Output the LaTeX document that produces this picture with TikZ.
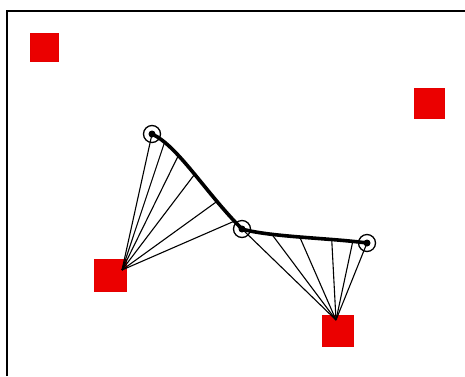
\documentclass[tikz,border=0pt]{standalone}
\begin{document}
\begin{tikzpicture}[x=1pt,y=-1pt,
  sq/.style={draw=red!90!black,fill=red!92!black,line width=0.8pt,minimum width=#1,minimum height=#1,inner sep=0pt},
  ring/.style={circle,draw=black,line width=1.3pt,minimum size=17pt,inner sep=0pt},
  dot/.style={circle,fill=black,minimum size=7pt,inner sep=0pt},
  fan/.style={draw=black,line width=1.1pt},
  thick curve/.style={draw=black,line width=3.6pt,line cap=round}]
\useasboundingbox (0,0) rectangle (465,376);
\fill[white] (0,0) rectangle (465,376);
% frame
\draw[line width=2pt] (7,376) -- (7,11) -- (465,11);
% red squares
\node[sq=28pt] (s1) at (44,47) {};
\node[sq=30pt] (s2) at (429,103) {};
\node[sq=32pt] (s3) at (110,275) {};
\node[sq=31pt] (s4) at (338,331) {};
% control points
\node[ring] (p1) at (152,134) {};
\node[ring] (p2) at (242,229) {};
\node[ring] (p3) at (367,243) {};
\node[dot] at (p1) {};
\node[dot] at (p2) {};
\node[dot] at (p3) {};
% fan origins
\coordinate (fl) at (122,270);
\coordinate (fr) at (336,320);
% thick curve with sample points
\path[thick curve] (p1.center) .. controls (178,146) and (205,192) .. (p2.center)
  coordinate[pos=0.16] (a2) coordinate[pos=0.33] (a3) coordinate[pos=0.52] (a4)
  coordinate[pos=0.76] (a5) coordinate[pos=0.93] (a6);
\path[thick curve] (p2.center) .. controls (270,237) and (330,238) .. (p3.center)
  coordinate[pos=0.28] (b2) coordinate[pos=0.49] (b3) coordinate[pos=0.72] (b4)
  coordinate[pos=0.88] (b5);
% left fan
\foreach \t in {p1.center,a2,a3,a4,a5,a6} \draw[fan] (fl) -- (\t);
% right fan
\foreach \t in {p2.center,b2,b3,b4,b5,p3.center} \draw[fan] (fr) -- (\t);
\end{tikzpicture}
\end{document}
